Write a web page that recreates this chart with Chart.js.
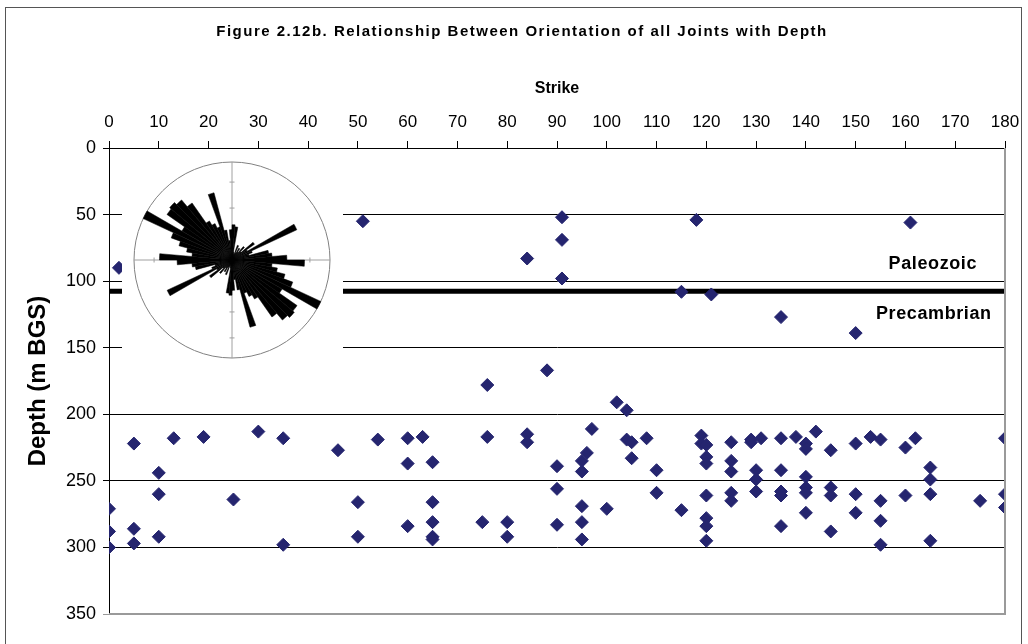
<!DOCTYPE html>
<html>
<head>
<meta charset="utf-8">
<title>Figure 2.12b</title>
<script src="https://cdn.jsdelivr.net/npm/chart.js@4.4.0/dist/chart.umd.min.js"></script>
<style>
  html, body { margin: 0; padding: 0; background: #fff; }
  #contenitore { position: relative; width: 1028px; height: 644px; overflow: hidden; }
  #cornice { position: absolute; left: 5px; top: 7px; width: 1017px; height: 700px; border: 1px solid #555; box-sizing: border-box; }
  #chartPrincipale { position: absolute; left: 0; top: 0; }
  #boxRosa { position: absolute; left: 122px; top: 152px; width: 221px; height: 216px; background: #fff; }
</style>
</head>
<body>
<div id="contenitore">
  <div id="cornice"></div>
  <canvas id="chartPrincipale" width="1028" height="644"></canvas>
  <div id="boxRosa"><canvas id="chartRosa" width="221" height="216"></canvas></div>
</div>
<script>
// --- Dati ---
const titoloFigura = "Figure 2.12b. Relationship Between Orientation of all Joints with Depth";

// strike (gradi) e profondita (m BGS) di ogni giunto, stesso ordine
const strikeGradi = [
  2, 51, 84, 91, 91, 91, 118, 161, 115, 121, 135, 150,
  88, 76, 102, 104, 97,
  5, 13, 19, 30, 35, 46, 54, 60, 63, 76, 84, 84, 90, 10, 60, 65,
  10, 25, 0, 50, 65, 90, 0, 5, 60, 65, 75, 80, 90,
  0, 5, 10, 35, 50, 65, 65, 80,
  104, 105, 108, 119, 119, 120, 125, 129, 129, 131, 135, 138, 140, 140, 142, 145,
  150, 153, 155, 160, 162, 180,
  96, 95, 95, 105, 110, 120, 120, 125, 125, 130, 130, 135, 140, 165, 165,
  95, 100, 110, 115, 120, 125, 125, 130, 135, 135, 140, 140, 145, 145, 150, 155,
  160, 165, 175, 180, 180,
  95, 95, 120, 120, 120, 135, 140, 145, 150, 155, 155, 165
];
const profonditaM = [
  90, 55, 83, 52, 69, 98, 54, 56, 108, 110, 127, 139,
  167, 178, 191, 197, 211,
  222, 218, 217, 213, 218, 227, 219, 218, 217, 217, 215, 221, 239, 244, 237, 236,
  260, 264, 271, 266, 266, 256, 288, 286, 284, 281, 281, 281, 283,
  300, 297, 292, 298, 292, 292, 294, 292,
  219, 221, 218, 216, 222, 223, 221, 219, 221, 218, 218, 217, 222, 226, 213, 227,
  222, 217, 219, 225, 218, 218,
  229, 235, 243, 233, 242, 232, 237, 235, 243, 242, 249, 242, 247, 240, 249,
  269, 271, 259, 272, 261, 259, 265, 258, 258, 261, 255, 259, 255, 261, 260, 265,
  261, 260, 265, 260, 270,
  281, 294, 278, 284, 295, 284, 274, 288, 274, 280, 298, 295
];

// limite Paleozoico / Precambriano
const confineProfondita = 107.5;
const etichettaSopra = "Paleozoic";
const etichettaSotto = "Precambrian";

// diagramma a rosa: settori di 5 gradi (0-180), lunghezza in % del cerchio esterno
const roseSettori = [
  0, 5, 10, 15, 20, 25, 30, 35, 40, 45, 50, 55,
  60, 65, 70, 75, 80, 85, 90, 95, 100, 105, 110, 115,
  120, 125, 130, 135, 140, 145, 150, 155, 160, 165, 170, 175
];
const roseLunghezze = [
  36, 34, 8, 6, 16, 8, 14, 10, 18, 12, 28, 18,
  73, 22, 18, 38, 41, 56, 74, 41, 47, 56, 66, 100,
  59, 81, 83, 80, 71, 46, 41, 36, 71, 31, 20, 31
];
const roseTacche = [26.5, 53, 79.5];

const FONT = '"Liberation Sans", Arial, sans-serif';

document.addEventListener("DOMContentLoaded", () => {
  Chart.defaults.font.family = FONT;
  Chart.defaults.color = "#000";
  disegnaDispersione();
  disegnaRosa();
});

function disegnaDispersione() {
  const punti = strikeGradi.map((s, i) => ({ x: s, y: profonditaM[i] }));

  // cornice grigia, titolo e etichette delle ere
  const testiEBordi = {
    id: "testiEBordi",
    afterDraw(chart) {
      const { ctx, chartArea, scales } = chart;
      ctx.save();
      ctx.strokeStyle = "#9a9a9a";
      ctx.lineWidth = 2;
      ctx.beginPath();
      ctx.moveTo(chartArea.right, chartArea.top);
      ctx.lineTo(chartArea.right, chartArea.bottom);
      ctx.lineTo(chartArea.left, chartArea.bottom);
      ctx.stroke();

      ctx.fillStyle = "#000";
      ctx.textAlign = "center";
      ctx.textBaseline = "middle";
      ctx.font = "bold 15px " + FONT;
      ctx.letterSpacing = "1.5px";
      ctx.fillText(titoloFigura, 522, 32);

      ctx.font = "bold 18px " + FONT;
      ctx.letterSpacing = "0.6px";
      ctx.fillText(etichettaSopra, scales.x.getPixelForValue(165.5), scales.y.getPixelForValue(87));
      ctx.fillText(etichettaSotto, scales.x.getPixelForValue(165.7), scales.y.getPixelForValue(124.5));
      ctx.restore();
    }
  };

  new Chart(document.getElementById("chartPrincipale"), {
    type: "scatter",
    data: {
      datasets: [
        {
          label: "Joints",
          data: punti,
          order: 1,
          pointStyle: "rectRot",
          pointRadius: 6.5,
          pointHoverRadius: 6.5,
          backgroundColor: "#25256f",
          borderColor: "#25256f",
          borderWidth: 1
        },
        {
          label: "Boundary",
          data: [{ x: 0, y: confineProfondita }, { x: 180, y: confineProfondita }],
          order: 2,
          showLine: true,
          pointRadius: 0,
          borderColor: "#000",
          borderWidth: 5
        }
      ]
    },
    options: {
      responsive: false,
      animation: false,
      layout: { padding: { top: 41, right: 23, bottom: 30, left: 0 } },
      plugins: {
        legend: { display: false },
        tooltip: { enabled: false }
      },
      scales: {
        x: {
          type: "linear",
          position: "top",
          min: 0,
          max: 180,
          afterFit: s => { s.height = 107; },
          ticks: { stepSize: 10, autoSkip: false, maxRotation: 0, padding: 8, font: { size: 17 } },
          grid: { drawOnChartArea: false, drawTicks: true, tickLength: 7, color: "#000" },
          border: { color: "#000", width: 1 },
          title: { display: true, text: "Strike", font: { size: 16, weight: "bold" }, padding: { top: 38 } }
        },
        y: {
          type: "linear",
          reverse: true,
          min: 0,
          max: 350,
          afterFit: s => { s.width = 109; },
          ticks: { stepSize: 50, padding: 7, font: { size: 18 } },
          grid: {
            tickLength: 6,
            lineWidth: 1,
            color: c => (c.tick && c.tick.value === 350 ? "#9a9a9a" : "#000")
          },
          border: { color: "#000", width: 1 },
          title: { display: true, text: "Depth (m BGS)", font: { size: 24, weight: "bold" }, padding: { top: 24 } }
        }
      }
    },
    plugins: [testiEBordi]
  });
}

function disegnaRosa() {
  // i giunti sono bidirezionali: la seconda meta ripete la prima
  const etichette = roseSettori.concat(roseSettori.map(a => a + 180));
  const valori = roseLunghezze.concat(roseLunghezze);

  // piccole tacche sugli assi N-S / E-O, sotto i petali
  const tacche = {
    id: "tacche",
    beforeDatasetsDraw(chart) {
      const { ctx } = chart;
      const r = chart.scales.r;
      ctx.save();
      ctx.strokeStyle = "#a0a0a0";
      ctx.lineWidth = 1;
      [0, 18, 36, 54].forEach(idx => {
        roseTacche.forEach(v => {
          const p = r.getPointPositionForValue(idx, v);
          ctx.beginPath();
          if (idx % 36 === 0) {
            ctx.moveTo(p.x - 2.5, p.y); ctx.lineTo(p.x + 2.5, p.y);
          } else {
            ctx.moveTo(p.x, p.y - 2.5); ctx.lineTo(p.x, p.y + 2.5);
          }
          ctx.stroke();
        });
      });
      ctx.restore();
    }
  };

  new Chart(document.getElementById("chartRosa"), {
    type: "polarArea",
    data: {
      labels: etichette,
      datasets: [{
        data: valori,
        backgroundColor: "#000",
        borderColor: "#000",
        borderWidth: 0.5
      }]
    },
    options: {
      responsive: false,
      animation: false,
      layout: { padding: 10 },
      plugins: {
        legend: { display: false },
        tooltip: { enabled: false }
      },
      scales: {
        r: {
          min: 0,
          max: 100,
          startAngle: 0,
          ticks: { display: false, stepSize: 25 },
          pointLabels: { display: false },
          grid: {
            circular: true,
            color: c => (c.tick && c.tick.value === 100 ? "#808080" : "rgba(0,0,0,0)")
          },
          angleLines: {
            display: true,
            color: c => (c.index % 18 === 0 ? "#a0a0a0" : "rgba(0,0,0,0)")
          }
        }
      }
    },
    plugins: [tacche]
  });
}
</script>
</body>
</html>
